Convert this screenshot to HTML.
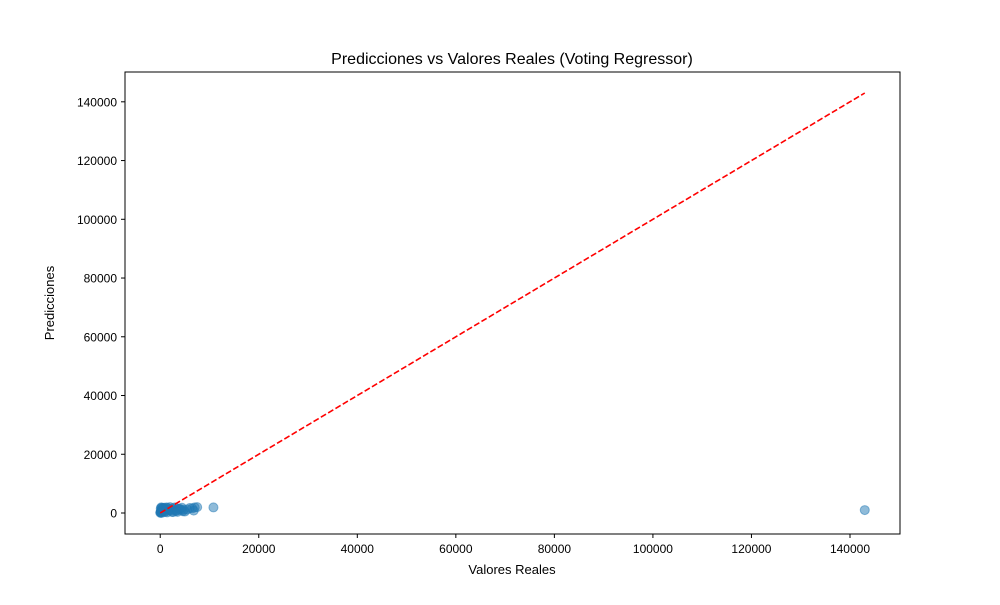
<!DOCTYPE html>
<html><head><meta charset="utf-8"><style>
body{margin:0;background:#fff}
text{font-family:"Liberation Sans","DejaVu Sans",sans-serif;fill:#000}
</style></head><body>
<svg id="chart" width="1000" height="600">
<rect x="0" y="0" width="1000" height="600" fill="#fff"/>
<g id="marks"></g>
<rect x="125" y="72" width="775" height="462" fill="none" stroke="#000" stroke-width="1"/>
<g id="axes"></g>
<text x="512" y="64" font-size="16" text-anchor="middle">Predicciones vs Valores Reales (Voting Regressor)</text>
<text x="512" y="574" font-size="13" text-anchor="middle">Valores Reales</text>
<text x="54" y="303" font-size="13" text-anchor="middle" transform="rotate(-90 54 303)">Predicciones</text>
</svg>
<script>
const xTicks=[0,20000,40000,60000,80000,100000,120000,140000];
const yTicks=[0,20000,40000,60000,80000,100000,120000,140000];
const realValues=[0,50,100,150,200,300,400,500,600,800,1000,1200,1500,1800,2000,2200,2500,2800,3000,3300,3600,4000,4300,4600,5000,5500,6000,6500,7000,7500,10800,143000,100,300,700,900,1400,1700,2400,3200,3800,4800,200,500,1100,1900,2600,3500,4400,6800,250,650,1300];
const predValues=[100,300,200,500,800,1200,400,1500,900,1800,1100,600,1700,1300,2000,900,1600,1200,1900,800,1500,1400,1000,600,500,1200,1700,1600,1900,2000,1900,1000,1500,1800,1700,300,200,1000,400,700,1300,1100,1900,1600,1500,1000,300,400,1800,800,0,600,1900];
const X0=125,X1=900,Y0=534,Y1=72;
const xMin=-7150,xMax=150150,yMin=-7150,yMax=150150;
const sx=v=>X0+(v-xMin)/(xMax-xMin)*(X1-X0);
const sy=v=>Y0-(v-yMin)/(yMax-yMin)*(Y0-Y1);
const NS="http://www.w3.org/2000/svg";
const marks=document.getElementById('marks'),axes=document.getElementById('axes');
realValues.forEach((r,i)=>{
 const c=document.createElementNS(NS,'circle');
 c.setAttribute('cx',sx(r));c.setAttribute('cy',sy(predValues[i]));c.setAttribute('r',4.5);
 c.setAttribute('fill','#1f77b4');c.setAttribute('fill-opacity','0.5');
 c.setAttribute('stroke','#1f77b4');c.setAttribute('stroke-opacity','0.5');c.setAttribute('stroke-width','1');
 
 
 marks.appendChild(c);
});
const lo=Math.min(...realValues),hi=Math.max(...realValues);
const ln=document.createElementNS(NS,'line');
ln.setAttribute('x1',sx(lo));ln.setAttribute('y1',sy(lo));ln.setAttribute('x2',sx(hi));ln.setAttribute('y2',sy(hi));
ln.setAttribute('stroke','red');ln.setAttribute('stroke-width','1.6');ln.setAttribute('stroke-dasharray','6,2.5');


marks.appendChild(ln);
xTicks.forEach(t=>{
 const x=sx(t);
 const l=document.createElementNS(NS,'line');
 l.setAttribute('x1',x);l.setAttribute('x2',x);l.setAttribute('y1',534);l.setAttribute('y2',538);l.setAttribute('stroke','#000');
 
 
 axes.appendChild(l);
 const tx=document.createElementNS(NS,'text');
 tx.setAttribute('x',x);tx.setAttribute('y',553);tx.setAttribute('font-size','12');tx.setAttribute('text-anchor','middle');
 tx.textContent=t;
 
 
 axes.appendChild(tx);
});
yTicks.forEach(t=>{
 const y=sy(t);
 const l=document.createElementNS(NS,'line');
 l.setAttribute('x1',121);l.setAttribute('x2',125);l.setAttribute('y1',y);l.setAttribute('y2',y);l.setAttribute('stroke','#000');
 
 
 axes.appendChild(l);
 const tx=document.createElementNS(NS,'text');
 tx.setAttribute('x',117);tx.setAttribute('y',y+4.5);tx.setAttribute('font-size','12');tx.setAttribute('text-anchor','end');
 tx.textContent=t;
 
 
 axes.appendChild(tx);
});
</script>
</body></html>
